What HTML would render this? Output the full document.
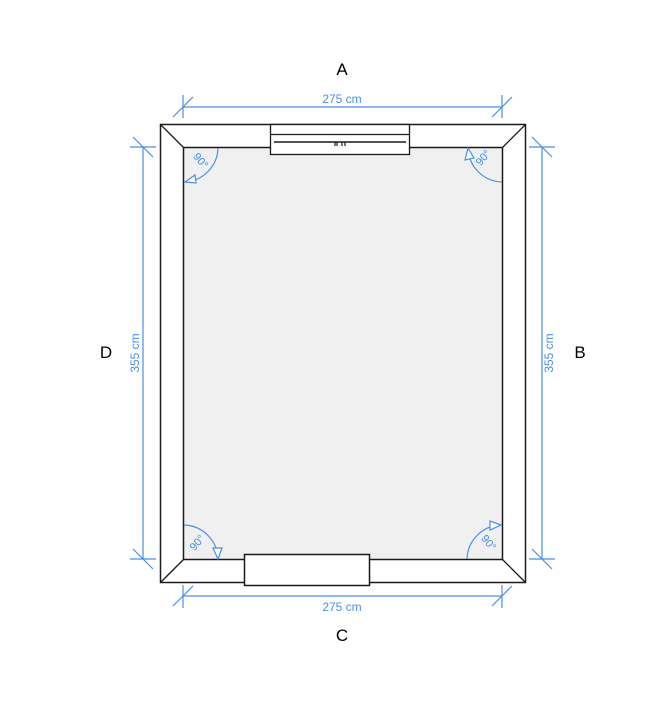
<!DOCTYPE html>
<html><head><meta charset="utf-8"><style>
html,body{margin:0;padding:0;background:#fff;}
svg{display:block;}
text{font-family:"Liberation Sans",sans-serif;}
</style></head><body>
<svg width="670" height="701" viewBox="0 0 670 701" xmlns="http://www.w3.org/2000/svg">
<rect x="0" y="0" width="670" height="701" fill="#fff"/>
<!-- walls -->
<rect x="160.5" y="124.5" width="365" height="458" fill="#fff" stroke="#1a1a1a" stroke-width="1.5"/>
<rect x="183.5" y="147.5" width="319" height="412" fill="#f0f0f0" stroke="#1a1a1a" stroke-width="1.5"/>
<g stroke="#1a1a1a" stroke-width="1.3">
<line x1="160.5" y1="124.5" x2="183.5" y2="147.5"/>
<line x1="525.5" y1="124.5" x2="502.5" y2="147.5"/>
<line x1="160.5" y1="582.5" x2="183.5" y2="559.5"/>
<line x1="525.5" y1="582.5" x2="502.5" y2="559.5"/>
</g>
<!-- window -->
<rect x="270.5" y="124.5" width="139" height="30" fill="#fff" stroke="#1a1a1a" stroke-width="1.3"/>
<line x1="270.5" y1="134.5" x2="409.5" y2="134.5" stroke="#1a1a1a" stroke-width="1.2"/>
<line x1="274" y1="142" x2="406" y2="142" stroke="#1a1a1a" stroke-width="1.5"/>
<path d="M335 142 v4 M337 142 v4 M342 142 v4 M345 142 v4" stroke="#1a1a1a" stroke-width="1.2"/>
<!-- door -->
<rect x="244.5" y="554.5" width="125" height="31" fill="#fff" stroke="#1a1a1a" stroke-width="1.5"/>
<!-- dimensions -->
<g stroke="#4a8ee8" stroke-width="1.2" fill="none">
<line x1="183" y1="107" x2="502" y2="107"/>
<line x1="183" y1="95" x2="183" y2="118"/><line x1="502" y1="95" x2="502" y2="118"/>
<line x1="173" y1="117" x2="193" y2="97"/><line x1="492" y1="117" x2="512" y2="97"/>
<line x1="183" y1="596" x2="502" y2="596"/>
<line x1="183" y1="585" x2="183" y2="608"/><line x1="502" y1="585" x2="502" y2="608"/>
<line x1="173" y1="606" x2="193" y2="586"/><line x1="492" y1="606" x2="512" y2="586"/>
<line x1="143" y1="147" x2="143" y2="559"/>
<line x1="130" y1="147" x2="156" y2="147"/><line x1="130" y1="559" x2="156" y2="559"/>
<line x1="133" y1="137" x2="153" y2="157"/><line x1="133" y1="549" x2="153" y2="569"/>
<line x1="542" y1="147" x2="542" y2="559"/>
<line x1="529" y1="147" x2="555" y2="147"/><line x1="529" y1="559" x2="555" y2="559"/>
<line x1="532" y1="137" x2="552" y2="157"/><line x1="532" y1="549" x2="552" y2="569"/>
<!-- angle arcs -->
<path d="M218 148 A35 35 0 0 1 184 182"/>
<path d="M502 182 A35 35 0 0 1 468 148"/>
<path d="M184 525 A35 35 0 0 1 218 559"/>
<path d="M467 559 A35 35 0 0 1 501 525"/>
</g>
<g fill="#fff" stroke="#4a8ee8" stroke-width="1.2">
<path d="M185 182 L195 175 L196 183 Z"/>
<path d="M468 148 L465 160 L474 158 Z"/>
<path d="M218 559 L213 548 L222 548 Z"/>
<path d="M501 525 L490 521 L490 530 Z"/>
</g>
<g fill="#4a8ee8" font-size="12">
<text x="342" y="103" text-anchor="middle">275 cm</text>
<text x="342" y="611" text-anchor="middle">275 cm</text>
<text transform="translate(139,353) rotate(-90)" text-anchor="middle">355 cm</text>
<text transform="translate(553,353) rotate(-90)" text-anchor="middle">355 cm</text>
<text transform="translate(198,163) rotate(50)" text-anchor="middle" font-size="11">90°</text>
<text transform="translate(486,160) rotate(-50)" text-anchor="middle" font-size="11">90°</text>
<text transform="translate(200,545) rotate(-50)" text-anchor="middle" font-size="11">90°</text>
<text transform="translate(486,545) rotate(50)" text-anchor="middle" font-size="11">90°</text>
</g>
<g fill="#000" font-size="17">
<text x="342" y="75" text-anchor="middle">A</text>
<text x="580" y="358" text-anchor="middle">B</text>
<text x="342" y="641" text-anchor="middle">C</text>
<text x="106" y="358" text-anchor="middle">D</text>
</g>
</svg>
</body></html>
